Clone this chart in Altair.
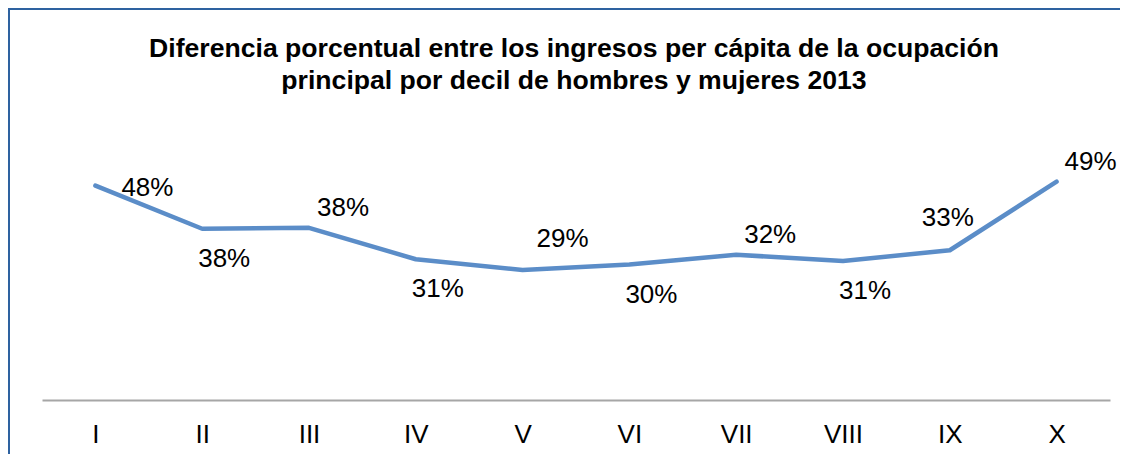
import altair as alt
import pandas as pd

deciles = ["I", "II", "III", "IV", "V", "VI", "VII", "VIII", "IX", "X"]
diferencia = [0.478, 0.382, 0.384, 0.314, 0.290, 0.302, 0.324, 0.310, 0.334, 0.487]
etiquetas = ["48%", "38%", "38%", "31%", "29%", "30%", "32%", "31%", "33%", "49%"]
posicion = ["right", "below", "above", "below", "high", "below", "above", "below", "top", "above"]
titulo = [
    "Diferencia porcentual entre los ingresos per cápita de la ocupación",
    "principal por decil de hombres y mujeres 2013",
]

df = pd.DataFrame({"decil": deciles, "dif": diferencia, "etiqueta": etiquetas, "pos": posicion})
one = pd.DataFrame({"k": [0]})

W, H = 1068, 269
FONT = "Liberation Sans"
BORDER = "#2E62A0"
BOTTOM = 54

x = alt.X(
    "decil:N",
    sort=deciles,
    scale=alt.Scale(type="point", padding=0.5),
    axis=alt.Axis(
        title=None, labelAngle=0, labelFontSize=26, labelFont=FONT, labelColor="black",
        domainColor="#a6a6a6", domainWidth=2, ticks=False, grid=False, labelPadding=21,
    ),
)
y = alt.Y("dif:Q", scale=alt.Scale(domain=[0, 0.6]), axis=None)

base = alt.Chart(df)
line = base.mark_line(
    color="#5B8DC8", strokeWidth=4.5, strokeCap="round", strokeJoin="round"
).encode(x=x, y=y)

offsets = {
    "right": (52, 2),
    "below": (22, 30),
    "above": (34, -20),
    "high": (40, -31),
    "top": (-2, -32),
}
labels = [
    base.transform_filter(alt.datum.pos == p)
    .mark_text(font=FONT, fontSize=26, color="black", baseline="middle", align="center", dx=dx, dy=dy)
    .encode(x=x, y=y, text="etiqueta:N")
    for p, (dx, dy) in offsets.items()
]

title_layers = [
    alt.Chart(one)
    .mark_text(font=FONT, fontSize=26.6, fontWeight="bold", color="black", align="center", baseline="alphabetic")
    .encode(x=alt.value(532), y=alt.value(yy), text=alt.value(t))
    for t, yy in zip(titulo, [-74, -42])
]

top_border = alt.Chart(one).mark_rule(color=BORDER, strokeWidth=2).encode(
    x=alt.value(-34), x2=alt.value(W + 10), y=alt.value(-122)
)
left_border = alt.Chart(one).mark_rule(color=BORDER, strokeWidth=2).encode(
    x=alt.value(-33), y=alt.value(-123), y2=alt.value(H + BOTTOM)
)

chart = (
    alt.layer(line, *labels, *title_layers, top_border, left_border)
    .properties(
        width=W,
        height=H,
        padding={"left": 34, "top": 123, "right": 10, "bottom": BOTTOM},
        autosize=alt.AutoSizeParams(type="none"),
    )
    .configure_view(stroke=None)
)

chart.save("out.html", embed_options={"renderer": "svg", "actions": False})
